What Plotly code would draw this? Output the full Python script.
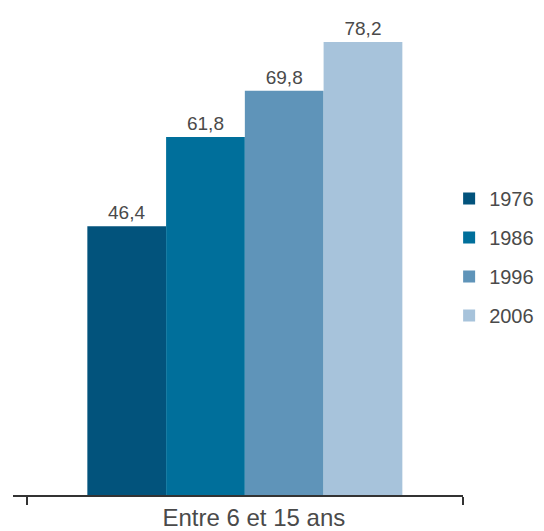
import plotly.graph_objects as go

categories = ["Entre 6 et 15 ans"]
years = ["1976", "1986", "1996", "2006"]
values = [46.4, 61.8, 69.8, 78.2]
colors = ["#02537c", "#006f9b", "#5f94b9", "#a7c3db"]

FONT = "Liberation Sans, Arial, Helvetica, sans-serif"
TXT = "#4a4a4a"

fig = go.Figure()
for yr, v, c in zip(years, values, colors):
    fig.add_trace(go.Bar(
        x=categories, y=[v], name=yr, legendgroup=yr,
        marker=dict(color=c, line=dict(width=0)),
        texttemplate="%{y:.1f}", textposition="outside",
        textfont=dict(family=FONT, size=19, color=TXT),
        cliponaxis=False,
    ))

# page body has an 8px margin, so the figure is 536x523
fig.update_layout(
    width=536, height=523,
    margin=dict(l=5, r=81, t=2, b=36, autoexpand=False),
    paper_bgcolor="white", plot_bgcolor="white",
    barmode="group", bargap=0.278, bargroupgap=0,
    separators=", ",
    font=dict(family=FONT, color=TXT),
    showlegend=True,
    legend=dict(xref="container", yref="container", x=0.823, xanchor="left",
                y=0.524, yanchor="middle",
                font=dict(family=FONT, size=20, color=TXT),
                tracegroupgap=10, bgcolor="rgba(0,0,0,0)"),
    xaxis=dict(type="category", range=[-0.5314, 0.5], showline=True,
               linecolor="#333333", linewidth=1.5, ticks="outside",
               tickson="boundaries", ticklen=8, tickcolor="#333333",
               tickwidth=1.5, showgrid=False, zeroline=False,
               ticklabelshift=9,
               tickfont=dict(family=FONT, size=24, color=TXT)),
    yaxis=dict(visible=False, range=[0, 83.72], showgrid=False, zeroline=False),
)

fig.write_html("out.html")
